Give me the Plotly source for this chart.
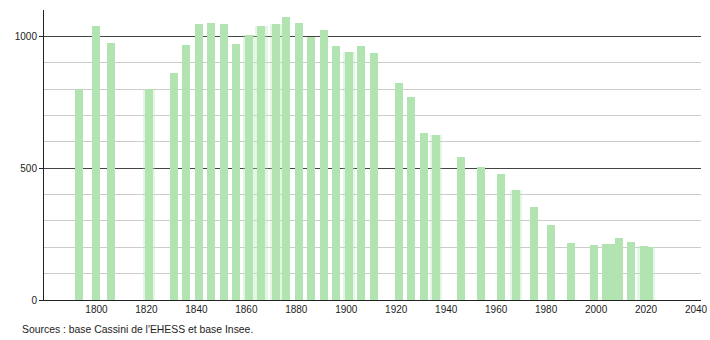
import plotly.graph_objects as go

years = [1793, 1800, 1806, 1821, 1831, 1836, 1841, 1846, 1851, 1856, 1861, 1866,
         1872, 1876, 1881, 1886, 1891, 1896, 1901, 1906, 1911, 1921, 1926, 1931,
         1936, 1946, 1954, 1962, 1968, 1975, 1982, 1990, 1999, 2004, 2006, 2009,
         2014, 2019, 2021]
population = [800, 1039, 975, 799, 861, 967, 1047, 1051, 1047, 971, 1005, 1039,
              1047, 1074, 1051, 997, 1024, 964, 940, 964, 938, 823, 770, 634,
              626, 542, 505, 478, 417, 353, 285, 215, 209, 213, 212, 235,
              219, 206, 202]
# years whose bars look blurred in the reference image
blurred_years = [1821, 1861, 1866, 1872, 1901, 1936, 1968, 2006, 2019, 2021]
x_ticks = [1800, 1820, 1840, 1860, 1880, 1900, 1920, 1940, 1960, 1980, 2000, 2020, 2040]
y_ticks = [0, 500, 1000]
source_text = "Sources : base Cassini de l'EHESS et base Insee."

FONT = "Liberation Sans, Arial, sans-serif"

pop_by_year = dict(zip(years, population))

fig = go.Figure()
fig.add_trace(go.Bar(
    x=blurred_years, y=[pop_by_year[y] for y in blurred_years], width=5.0,
    marker=dict(color="#b2e4b2", opacity=0.35, line=dict(width=0)),
    hoverinfo="skip",
))
fig.add_trace(go.Bar(
    x=years, y=population, width=3.2,
    marker=dict(color="#b2e4b2", line=dict(width=0)),
    hoverinfo="x+y",
))

fig.update_layout(
    width=710, height=340,
    margin=dict(l=44, r=9, t=10, b=40, autoexpand=False),
    plot_bgcolor="white", paper_bgcolor="white",
    showlegend=False,
    barmode="overlay",
    bargap=0,
    font=dict(family=FONT, size=10, color="#222"),
    xaxis=dict(
        range=[1779, 2042],
        tickvals=x_ticks,
        ticktext=[str(v) for v in x_ticks],
        showgrid=False, zeroline=False,
        showline=True, linecolor="#222", linewidth=1,
        ticks="", automargin=False,
        tickfont=dict(size=10, color="#222"),
    ),
    yaxis=dict(
        range=[0, 1100],
        tickvals=y_ticks,
        ticktext=[str(v) for v in y_ticks],
        showgrid=True, gridcolor="#444", gridwidth=1,
        zeroline=False, automargin=False,
        showline=True, linecolor="#222", linewidth=1,
        ticks="outside", ticklen=4, tickcolor="#222",
        tickfont=dict(size=10, color="#222"),
        minor=dict(dtick=100, tick0=0, showgrid=True, gridcolor="#cccccc", gridwidth=1, ticks=""),
    ),
    annotations=[dict(
        text=source_text, xref="paper", yref="paper",
        x=-0.0365, y=-0.1, xanchor="left", yanchor="middle",
        showarrow=False, font=dict(size=10.4, color="#222", family=FONT),
    )],
)

fig.write_html("out.html")
